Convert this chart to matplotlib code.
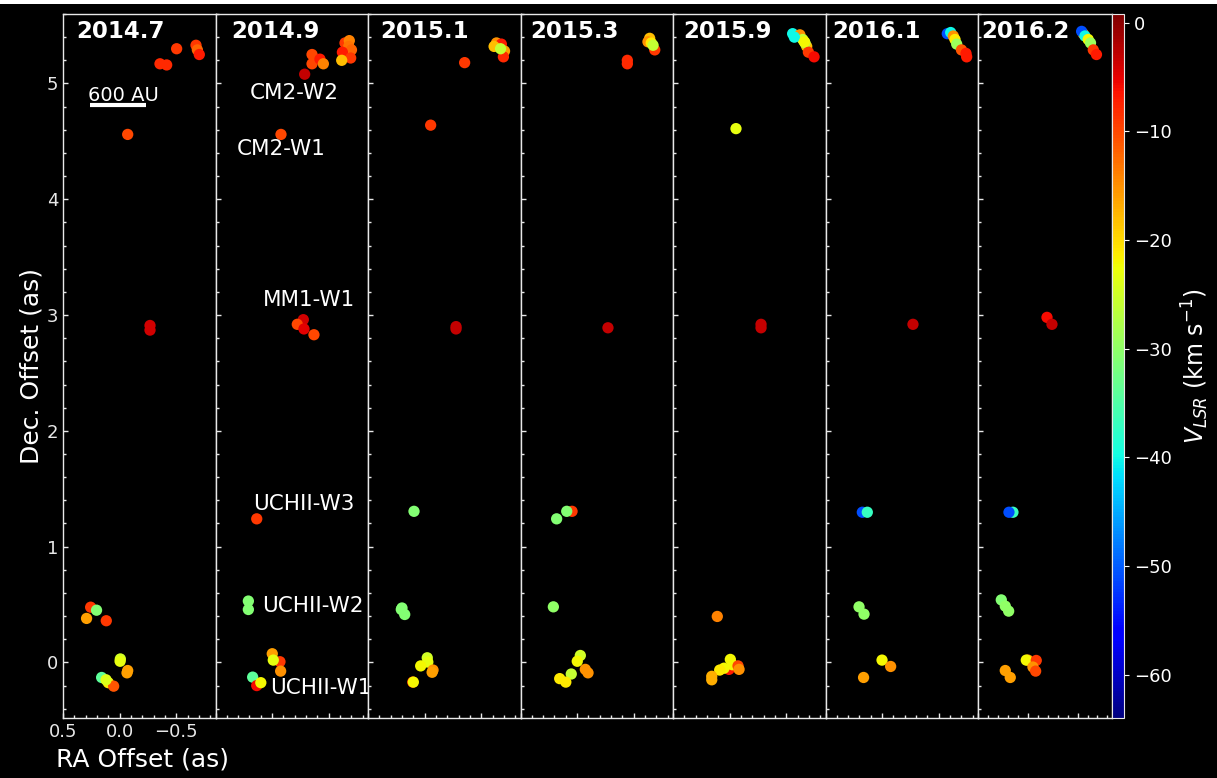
import numpy as np
import matplotlib
matplotlib.use("Agg")
import matplotlib.pyplot as plt
from matplotlib.ticker import MultipleLocator
from matplotlib.patches import Rectangle

# epochs shown in each panel
epochs = ["2014.7", "2014.9", "2015.1", "2015.3", "2015.9", "2016.1", "2016.2"]

# RA offset (as), Dec offset (as) and V_LSR (km/s) of the maser spots per epoch
ra_2014_7 = [-0.503, -0.356, -0.415, -0.674, -0.686, -0.703, -0.071, -0.268, -0.268,
             0.256, 0.204, 0.292, 0.118, -0.006, -0.004, -0.071, -0.065, 0.159, 0.10, 0.053, 0.12]
dec_2014_7 = [5.30, 5.17, 5.16, 5.33, 5.29, 5.25, 4.56, 2.91, 2.87,
              0.477, 0.451, 0.38, 0.36, 0.03, 0.01, -0.07, -0.09, -0.13, -0.175, -0.205, -0.15]
v_2014_7 = [-9, -8, -8, -9, -12, -7, -10, -4, -4,
            -9, -31, -16, -9, -25, -23, -16, -16, -34, -21, -11, -24]

ra_2014_9 = [-0.643, -0.681, -0.676, -0.70, -0.62, -0.693, -0.614, -0.352, -0.352, -0.422, -0.452, -0.287,
             -0.078, -0.275, -0.222, -0.281, -0.369, 0.136,
             0.21, 0.21, -0.001, -0.069, -0.01, -0.075, 0.172, 0.136, 0.10]
dec_2014_9 = [5.35, 5.37, 5.32, 5.29, 5.27, 5.22, 5.20, 5.25, 5.17, 5.21, 5.17, 5.08,
              4.56, 2.96, 2.92, 2.88, 2.83, 1.24,
              0.53, 0.457, 0.075, 0.006, 0.02, -0.075, -0.127, -0.2, -0.175]
v_2014_9 = [-9, -14, -13, -12, -7, -9, -18, -10, -10, -7, -14, -3,
            -10, -4, -10, -5, -10, -9,
            -31, -31, -16, -9, -23, -15, -34, -6, -22]

ra_2015_1 = [-0.353, -0.053, -0.634, -0.677, -0.613, -0.705, -0.695, -0.67, -0.277, -0.277,
             0.094, 0.206, 0.176, 0.20, -0.023, -0.028, 0.035, -0.074, -0.066, 0.105, 0.10]
dec_2015_1 = [5.18, 4.64, 5.35, 5.34, 5.32, 5.28, 5.23, 5.30, 2.90, 2.88,
              1.305, 0.457, 0.414, 0.47, 0.04, 0.003, -0.03, -0.066, -0.085, -0.17, -0.17]
v_2015_1 = [-9, -9, -15, -7, -18, -16, -8, -26, -3, -3,
            -31, -31, -31, -31, -25, -23, -22, -15, -16, -8, -22]

ra_2015_3 = [-0.443, -0.443, -0.64, -0.625, -0.685, -0.654, -0.67, -0.272,
             0.045, 0.092, 0.181, 0.21, -0.028, -0.001, -0.072, -0.096, 0.052, 0.154, 0.10]
dec_2015_3 = [5.20, 5.17, 5.39, 5.36, 5.29, 5.35, 5.33, 2.89,
              1.305, 1.305, 1.24, 0.48, 0.06, 0.01, -0.06, -0.09, -0.10, -0.14, -0.17]
v_2015_3 = [-8, -8, -18, -15, -9, -21, -26, -3,
            -9, -31, -31, -30, -25, -22, -15, -15, -26, -21, -21]

ra_2015_9 = [-0.056, -0.556, -0.62, -0.645, -0.68, -0.665, -0.695, -0.745, -0.571, -0.66, -0.277, -0.277,
             0.109, 0.006, -0.006, -0.024, -0.074, -0.083, 0.05, 0.088, 0.158, 0.158]
dec_2015_9 = [4.61, 5.43, 5.42, 5.38, 5.32, 5.35, 5.27, 5.23, 5.40, 5.36, 2.92, 2.89,
              0.397, -0.06, 0.026, -0.02, -0.03, -0.06, -0.05, -0.066, -0.12, -0.15]
v_2015_9 = [-23, -40, -15, -26, -18, -27, -9, -6, -40, -22, -3, -3,
            -14, -7, -22, -22, -10, -15, -22, -21, -17, -17]

ra_2016_1 = [-0.575, -0.605, -0.628, -0.643, -0.658, -0.70, -0.74, -0.746, -0.272,
             0.175, 0.131, 0.204, 0.16, 0.001, -0.075, 0.164]
dec_2016_1 = [5.43, 5.44, 5.41, 5.38, 5.34, 5.29, 5.26, 5.23, 2.92,
              1.297, 1.297, 0.48, 0.417, 0.02, -0.035, -0.13]
v_2016_1 = [-51, -40, -15, -21, -29, -11, -7, -7, -3,
            -51, -37, -30, -30, -22, -15, -16]

ra_2016_2 = [-0.557, -0.541, -0.574, -0.607, -0.63, -0.658, -0.69, -0.193, -0.243,
             0.149, 0.189, 0.266, 0.226, 0.192, -0.002, 0.015, -0.085, -0.052, -0.079, 0.226, 0.176]
dec_2016_2 = [5.43, 5.45, 5.41, 5.38, 5.35, 5.29, 5.25, 2.98, 2.92,
              1.297, 1.297, 0.54, 0.486, 0.443, 0.02, 0.02, 0.017, -0.04, -0.075, -0.07, -0.13]
v_2016_2 = [-14, -51, -40, -22, -29, -9, -7, -6, -3,
            -37, -51, -31, -30, -30, -15, -22, -9, -15, -10, -16, -16]

ra_all = [ra_2014_7, ra_2014_9, ra_2015_1, ra_2015_3, ra_2015_9, ra_2016_1, ra_2016_2]
dec_all = [dec_2014_7, dec_2014_9, dec_2015_1, dec_2015_3, dec_2015_9, dec_2016_1, dec_2016_2]
v_all = [v_2014_7, v_2014_9, v_2015_1, v_2015_3, v_2015_9, v_2016_1, v_2016_2]

# source names (drawn in the 2014.9 panel)
source_names = ["CM2-W2", "CM2-W1", "MM1-W1", "UCHII-W3", "UCHII-W2", "UCHII-W1"]
name_ra = [0.195, 0.31, 0.081, 0.169, 0.09, 0.019]
name_dec = [4.92, 4.43, 3.13, 1.37, 0.483, -0.224]

# left x position of the year labels (data units)
year_x = [0.38, 0.362, 0.388, 0.412, 0.412, 0.44, 0.47]

vmin, vmax = -64, 0.8
fg = "#e8e8e8"

fig = plt.figure(figsize=(12.17, 7.78), dpi=100, facecolor="black")
W, H = 1217.0, 778.0
lefts = [63, 215.5, 368, 520.5, 673, 825.5, 978]
widths = [152.5] * 6 + [134]
top_px, bot_px = 14, 718

axes = []
for i in range(7):
    ax = fig.add_axes([lefts[i] / W, 1 - bot_px / H, widths[i] / W, (bot_px - top_px) / H])
    ax.set_facecolor("black")
    sc = ax.scatter(ra_all[i], dec_all[i], c=v_all[i], cmap="jet", vmin=vmin, vmax=vmax,
                    s=66, edgecolors="none", zorder=3)
    ax.set_xlim(0.5, -0.846)
    ax.set_ylim(-0.48, 5.6)
    ax.xaxis.set_major_locator(MultipleLocator(0.5))
    ax.xaxis.set_minor_locator(MultipleLocator(0.1))
    ax.yaxis.set_major_locator(MultipleLocator(1))
    ax.yaxis.set_minor_locator(MultipleLocator(0.2))
    ax.tick_params(which="both", direction="in", colors=fg, labelsize=13,
                   top=False, right=False)
    ax.tick_params(which="major", length=3.5, width=1)
    ax.tick_params(which="minor", length=2, width=1)
    for sp in ax.spines.values():
        sp.set_color(fg)
        sp.set_linewidth(1)
    if i > 0:
        ax.tick_params(labelleft=False, labelbottom=False)
    ax.text(year_x[i], 5.45, epochs[i], color="white", fontsize=16.5,
            fontweight="bold", ha="left", va="center", zorder=5)
    axes.append(ax)

# scale bar in the first panel
axes[0].plot([0.262, -0.233], [4.81, 4.81], color="white", lw=3, solid_capstyle="butt")
axes[0].text(-0.03, 4.9, "600 AU", color="white", fontsize=14, ha="center", va="center")

for name, x, y in zip(source_names, name_ra, name_dec):
    axes[1].text(x, y, name, color="white", fontsize=15.5, ha="left", va="center",
                 clip_on=False, zorder=10)

axes[0].set_ylabel("Dec. Offset (as)", color="white", fontsize=18, labelpad=2)
fig.text(142 / W, 1 - 759 / H, "RA Offset (as)", color="white", fontsize=18,
         ha="center", va="center")

cax = fig.add_axes([1112 / W, 1 - bot_px / H, 12 / W, (bot_px - top_px) / H])
cb = fig.colorbar(sc, cax=cax, ticks=[-60, -50, -40, -30, -20, -10, 0])
cb.outline.set_edgecolor(fg)
cb.ax.tick_params(colors="white", labelsize=13, length=3.5)
cb.set_label("$V_{LSR}$ (km s$^{-1}$)", color="white", fontsize=17, labelpad=6)

# thin white band on the top edge
fig.patches.append(Rectangle((0, 1 - 4 / H), 1, 4 / H, transform=fig.transFigure,
                             facecolor="white", edgecolor="none"))

plt.savefig("out.png", dpi=100, facecolor="black")
